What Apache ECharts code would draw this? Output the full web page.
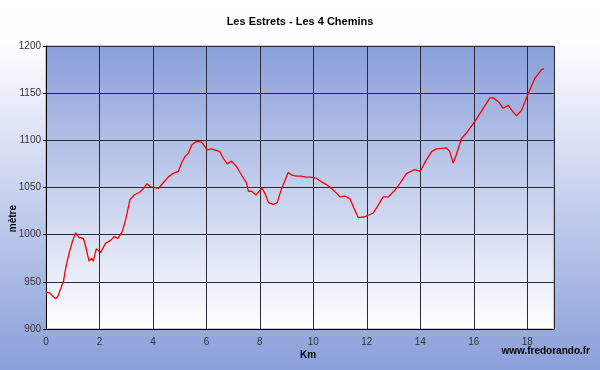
<!DOCTYPE html>
<html>
<head>
<meta charset="utf-8">
<script src="https://cdn.jsdelivr.net/npm/echarts@6/dist/echarts.min.js"></script>
<style>html,body{margin:0;padding:0;}#c{width:600px;height:370px;}</style>
</head>
<body>
<div id="c"></div>
<script>
const chartTitle = "Les Estrets - Les 4 Chemins";
const xName = "Km";
const yName = "mètre";
const credit = "www.fredorando.fr";

const km = [0,0.05,0.15,0.25,0.36,0.45,0.55,0.65,0.74,0.86,0.99,1.11,1.23,1.4,1.48,1.61,1.71,1.77,1.88,2.04,2.23,2.42,2.54,2.69,2.85,2.98,3.14,3.3,3.5,3.65,3.78,3.89,4.2,4.39,4.57,4.76,4.95,5.07,5.2,5.32,5.45,5.63,5.82,6.03,6.19,6.5,6.63,6.78,6.94,7.13,7.32,7.5,7.57,7.69,7.85,8.0,8.09,8.2,8.32,8.5,8.65,8.8,9.06,9.2,9.35,9.55,9.7,9.9,10.1,10.3,10.5,10.68,10.9,11.0,11.18,11.37,11.55,11.68,11.93,12.24,12.4,12.61,12.8,13.05,13.25,13.49,13.8,13.99,14.2,14.42,14.6,14.98,15.1,15.23,15.35,15.54,15.73,16.04,16.29,16.6,16.73,16.92,17.1,17.29,17.42,17.6,17.79,18.04,18.29,18.54,18.62];
const elevation = [939,939,938,935,932,935,943,950,965,980,993,1002,997,996,988,972,975,972,985,981,991,994,998,996,1003,1016,1037,1042,1045,1049,1054,1051,1049,1055,1061,1065,1067,1076,1083,1086,1095,1099,1098,1090,1091,1088,1081,1075,1078,1072,1063,1055,1046,1046,1042,1047,1049,1043,1034,1032,1034,1048,1066,1063,1062,1062,1061,1061,1060,1056,1053,1049,1043,1040,1041,1038,1026,1018,1019,1023,1030,1040,1040,1047,1055,1065,1069,1067,1078,1088,1091,1092,1088,1076,1085,1102,1108,1120,1131,1145,1145,1141,1134,1137,1132,1126,1132,1150,1166,1175,1176];

const xMin = 0, xMax = 19, xStep = 2;
const yMin = 900, yMax = 1200, yStep = 50;

const chart = echarts.init(document.getElementById('c'));
chart.setOption({
  animation: false,
  backgroundColor: new echarts.graphic.LinearGradient(0, 0, 0, 1, [
    {offset: 0, color: '#ffffff'},
    {offset: 0.12, color: '#fdfdff'},
    {offset: 1, color: '#8a9fda'}
  ]),
  title: {
    text: chartTitle, left: 'center', top: 11,
    textStyle: {fontFamily: 'Liberation Sans', fontSize: 11, fontWeight: 'bold', color: '#000'}
  },
  graphic: [
    {type: 'text', right: 10, top: 346, style: {text: credit, font: 'bold 10px "Liberation Sans"', fill: '#000'}},
    {type: 'text', left: 300, top: 350, style: {text: xName, font: 'bold 10px "Liberation Sans"', fill: '#000', align: 'center'}},
    {type: 'text', left: 8, top: 205, rotation: Math.PI/2, style: {text: yName, font: 'bold 10px "Liberation Sans"', fill: '#000'}}
  ],
  grid: {
    left: 46, top: 46, right: 46, bottom: 41, show: true,
    borderColor: '#999', borderWidth: 1,
    backgroundColor: new echarts.graphic.LinearGradient(0, 0, 0, 1, [
      {offset: 0, color: '#8a9fda'},
      {offset: 1, color: '#ffffff'}
    ])
  },
  xAxis: {
    type: 'value', min: xMin, max: xMax, interval: xStep,
    axisLine: {show: true, lineStyle: {color: '#000', width: 1}},
    axisTick: {show: false},
    axisLabel: {showMaxLabel: false, margin: 8, fontFamily: 'Liberation Sans', fontSize: 10, color: '#333', formatter: v => String(v)},
    splitLine: {show: true, lineStyle: {color: '#2a2a3a', width: 1}}
  },
  yAxis: {
    type: 'value', min: yMin, max: yMax, interval: yStep,
    axisLine: {show: true, lineStyle: {color: '#000', width: 1}},
    axisTick: {show: true, length: 3, lineStyle: {color: '#000'}},
    axisLabel: {margin: 5, fontFamily: 'Liberation Sans', fontSize: 10, color: '#333', formatter: v => String(v)},
    splitLine: {show: true, lineStyle: {color: '#2a2a3a', width: 1}}
  },
  series: [{
    type: 'line', symbol: 'none', smooth: false,
    lineStyle: {color: '#ff0000', width: 1.3},
    data: km.map((k, i) => [k, elevation[i]])
  }]
});
</script>
</body>
</html>
